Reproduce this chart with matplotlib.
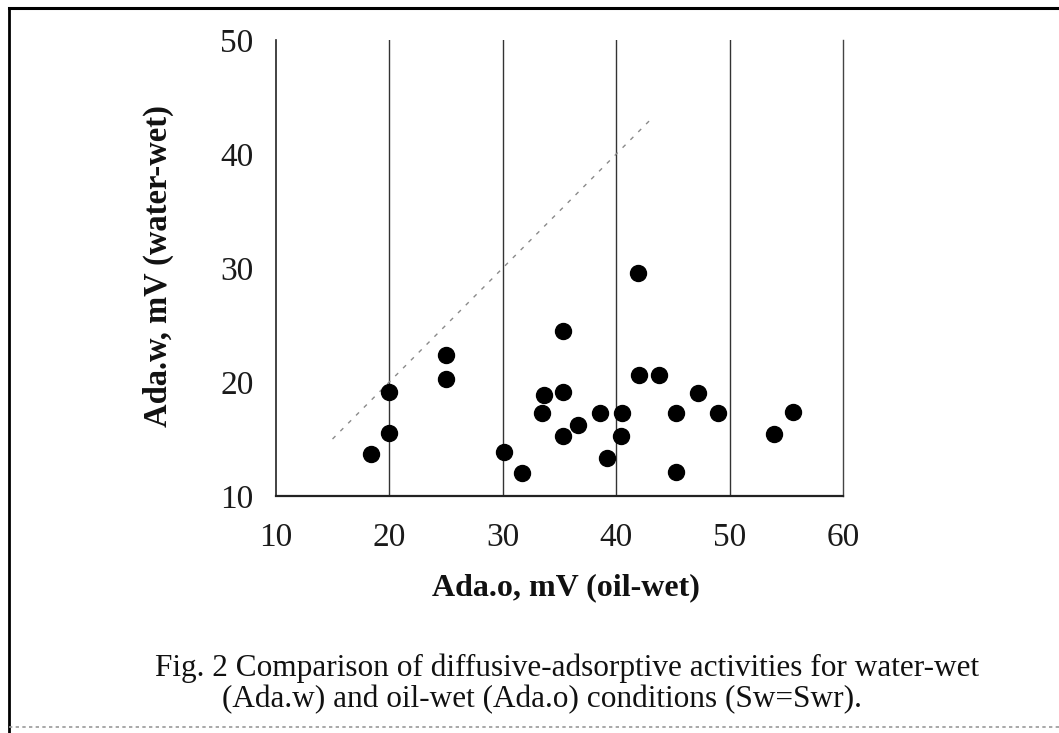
import matplotlib
matplotlib.use("Agg")
import matplotlib.pyplot as plt
from matplotlib.lines import Line2D

plt.rcParams['font.family'] = ['Liberation Serif', 'DejaVu Serif']

# Data
ada_o = [18.4, 20.0, 20.0, 25.0, 25.0, 30.1, 31.7, 35.3, 33.6, 35.3, 33.5, 35.3, 36.6,
         41.9, 42.0, 43.8, 47.2, 38.6, 40.5, 45.3, 49.0, 55.6, 40.4, 53.9, 39.2, 45.3]
ada_w = [13.7, 15.5, 19.1, 22.4, 20.3, 13.9, 12.0, 24.5, 18.9, 19.1, 17.3, 15.3, 16.2,
         29.6, 20.6, 20.6, 19.0, 17.3, 17.3, 17.3, 17.3, 17.4, 15.3, 15.4, 13.3, 12.1]
ref_line = [15.0, 43.3]
x_ticks = [10, 20, 30, 40, 50, 60]
y_ticks = [10, 20, 30, 40, 50]
x_label = "Ada.o, mV (oil-wet)"
y_label = "Ada.w, mV (water-wet)"
caption_1 = "Fig. 2 Comparison of diffusive-adsorptive activities for water-wet"
caption_2 = "(Ada.w) and oil-wet (Ada.o) conditions (Sw=Swr)."

fig = plt.figure(figsize=(10.59, 7.33), dpi=100)
ax = fig.add_axes([0.2604, 0.3233, 0.5359, 0.6221])

ax.set_xlim(10, 60)
ax.set_ylim(10, 50)
ax.set_xticks(x_ticks)
ax.set_yticks(y_ticks)
ax.tick_params(length=0, labelsize=24, colors='#1a1a1a')
ax.tick_params(axis='x', pad=19)
ax.tick_params(axis='y', pad=16)

for g in x_ticks[1:-1]:
    ax.axvline(g, color='#333333', lw=1.0, zorder=1)

ax.spines['top'].set_visible(False)
ax.spines['right'].set_color('#444444')
ax.spines['right'].set_linewidth(1.0)
ax.spines['left'].set_color('#222222')
ax.spines['bottom'].set_color('#222222')
ax.spines['left'].set_linewidth(1.2)
ax.spines['bottom'].set_linewidth(1.6)

ax.plot(ref_line, ref_line, color='#8a8a8a', lw=1.0, ls=(0, (3, 5)), zorder=2)
ax.plot(ada_o, ada_w, 'o', color='black', ms=11.5, zorder=3, clip_on=False)

ax.set_xlabel(x_label, fontsize=23, fontweight='bold', color='#111111', va='center')
ax.xaxis.set_label_coords(0.512, -0.202)
ax.set_ylabel(y_label, fontsize=23.5, fontweight='bold', color='#111111', va='center')
ax.yaxis.set_label_coords(-0.206, 0.504)

fig.text(567 / 1059, 1 - 676 / 733, caption_1, ha='center', va='baseline',
         fontsize=22.5, color='#111111')
fig.text(542 / 1059, 1 - 707 / 733, caption_2, ha='center', va='baseline',
         fontsize=22.5, color='#111111')

# page frame
fig.add_artist(Line2D([0.0085, 1.0], [0.989, 0.989], transform=fig.transFigure,
                      color='black', lw=2.2))
fig.add_artist(Line2D([0.0085, 0.0085], [0.0, 0.989], transform=fig.transFigure,
                      color='black', lw=2.0))
fig.add_artist(Line2D([0.0085, 1.0], [0.008, 0.008], transform=fig.transFigure,
                      color='#999999', lw=1.2, ls=(0, (2, 2))))

fig.savefig("out.png", dpi=100)
